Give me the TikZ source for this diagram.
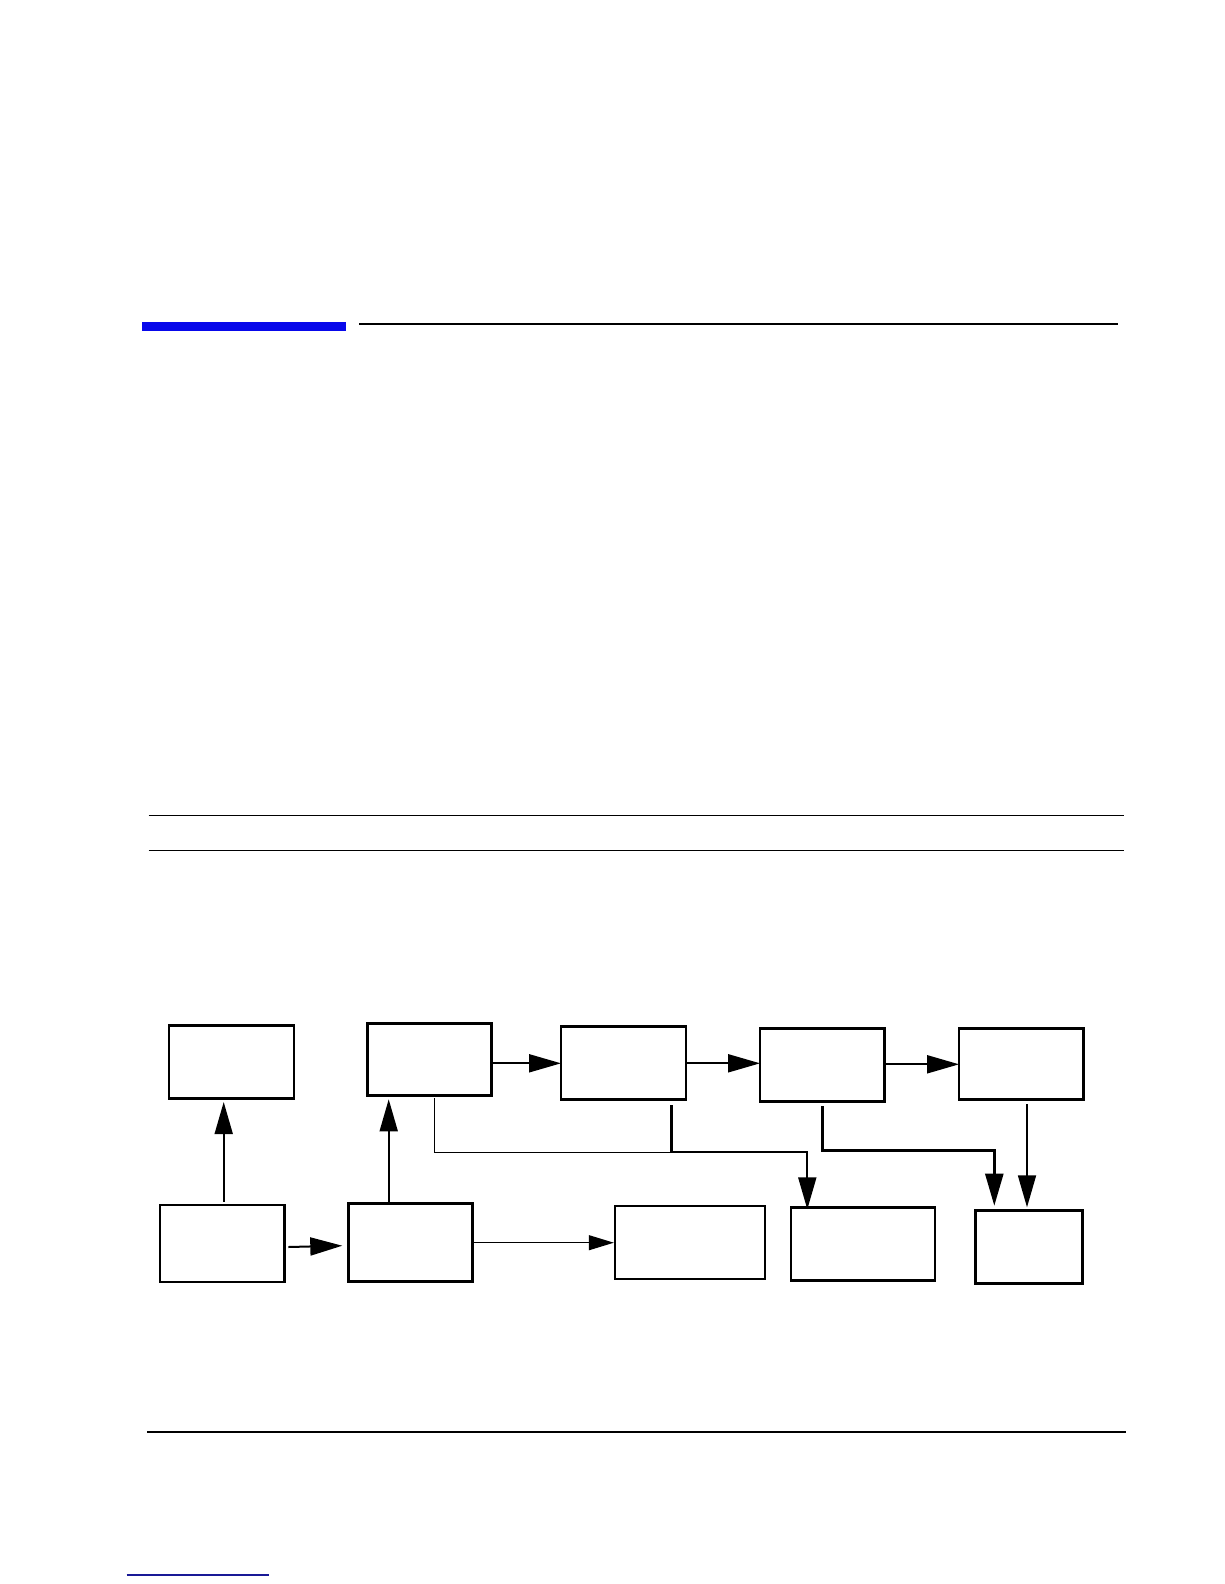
\documentclass[tikz,border=0pt]{standalone}
\usetikzlibrary{arrows.meta}
\definecolor{barblue}{RGB}{8,8,235}
\definecolor{linkblue}{RGB}{25,25,150}
\begin{document}
\begin{tikzpicture}[x=1pt,y=-1pt,
  box/.style={draw=black,line width=2.7pt,fill=white,inner sep=0pt,outer sep=0pt,rectangle},
  arr/.style={-{Triangle[length=32pt,width=18pt]},line width=2pt},
  arrthin/.style={-{Triangle[length=25pt,width=15pt]},line width=1.1pt},
  rule/.style={line width=1.3pt}]
\useasboundingbox (0,0) rectangle (1224,1584);
% page decorations
\fill[barblue] (142,322) rectangle (346,331);
\coordinate (t1) at (359,323.7); \coordinate (t2) at (1117.7,323.7);
\draw[line width=2pt] (t1) -- (t2);
\coordinate (r1) at (148.7,815.3); \coordinate (r2) at (1123.7,815.3);
\draw[rule] (r1) -- (r2);
\coordinate (r3) at (148.7,850.3); \coordinate (r4) at (1123.7,850.3);
\draw[rule] (r3) -- (r4);
\coordinate (r5) at (147,1432); \coordinate (r6) at (1125.7,1432);
\draw[line width=2pt] (r5) -- (r6);
\coordinate (l1) at (126.7,1575); \coordinate (l2) at (269,1575);
\draw[linkblue,line width=1.3pt] (l1) -- (l2);
% boxes
\node[box,minimum width=125pt,minimum height=73pt] (A) at (231.5,1062.2) {};
\node[box,minimum width=124.5pt,minimum height=72.5pt] (B) at (429.5,1059.5) {};
\node[box,minimum width=125pt,minimum height=73pt] (C) at (623.5,1063.3) {};
\node[box,minimum width=124.5pt,minimum height=73pt] (G) at (822.3,1065.3) {};
\node[box,minimum width=124.5pt,minimum height=71pt] (H) at (1021.3,1064.3) {};
\node[box,minimum width=124.5pt,minimum height=77pt] (D) at (222.3,1243.5) {};
\node[box,minimum width=124pt,minimum height=78pt] (E) at (410.2,1242.7) {};
\node[box,line width=2.3pt,minimum width=150pt,minimum height=73pt] (F) at (689.8,1242.5) {};
\node[box,minimum width=144pt,minimum height=73pt] (I) at (863,1244.3) {};
\node[box,line width=3.2pt,minimum width=107pt,minimum height=73pt] (J) at (1029,1247) {};
% connectors top row
\draw[arr] (B.east |- C.west) -- (C.west);
\draw[arr] (C.east) -- (C.east -| G.west);
\draw[arr] (G.east |- H.west) -- (H.west);
% bottom row
\coordinate (d1) at (288.3,1247); \coordinate (e0) at (342.3,1245.7);
\draw[arr] (d1) -- (e0);
\draw[arrthin,shorten >=1pt] (E.east) -- (E.east -| F.west);
% vertical up arrows
\coordinate (d2) at (223.7,1201.7); \coordinate (a0) at (223.7,1102);
\draw[arr,line width=1.8pt] (d2) -- (a0);
\coordinate (e1) at (388.7,1201.7); \coordinate (b0) at (388.7,1099.3);
\draw[arr,line width=1.8pt] (e1) -- (b0);
% branch lines into I
\coordinate (b1) at (434.3,1098); \coordinate (j1) at (671.3,1152);
\draw[line width=1pt] (b1) |- (j1);
\coordinate (c1) at (671.3,1105.3);
\draw[line width=3pt] (c1) -- (j1);
\coordinate (i1) at (807.3,1209.3);
\draw[arr,line width=2pt] (j1) -| (i1);
% branch from G into J
\coordinate (g1) at (822.3,1106); \coordinate (g2) at (994.3,1150.3);
\coordinate (j2) at (994.3,1205.7);
\draw[arr,line width=2.4pt] (g1) -- (g1 |- g2) -- (g2) -- (j2);
% H down to J
\coordinate (h1) at (1027,1104); \coordinate (j3) at (1027,1207.3);
\draw[arr,line width=1.8pt] (h1) -- (j3);
\end{tikzpicture}
\end{document}
